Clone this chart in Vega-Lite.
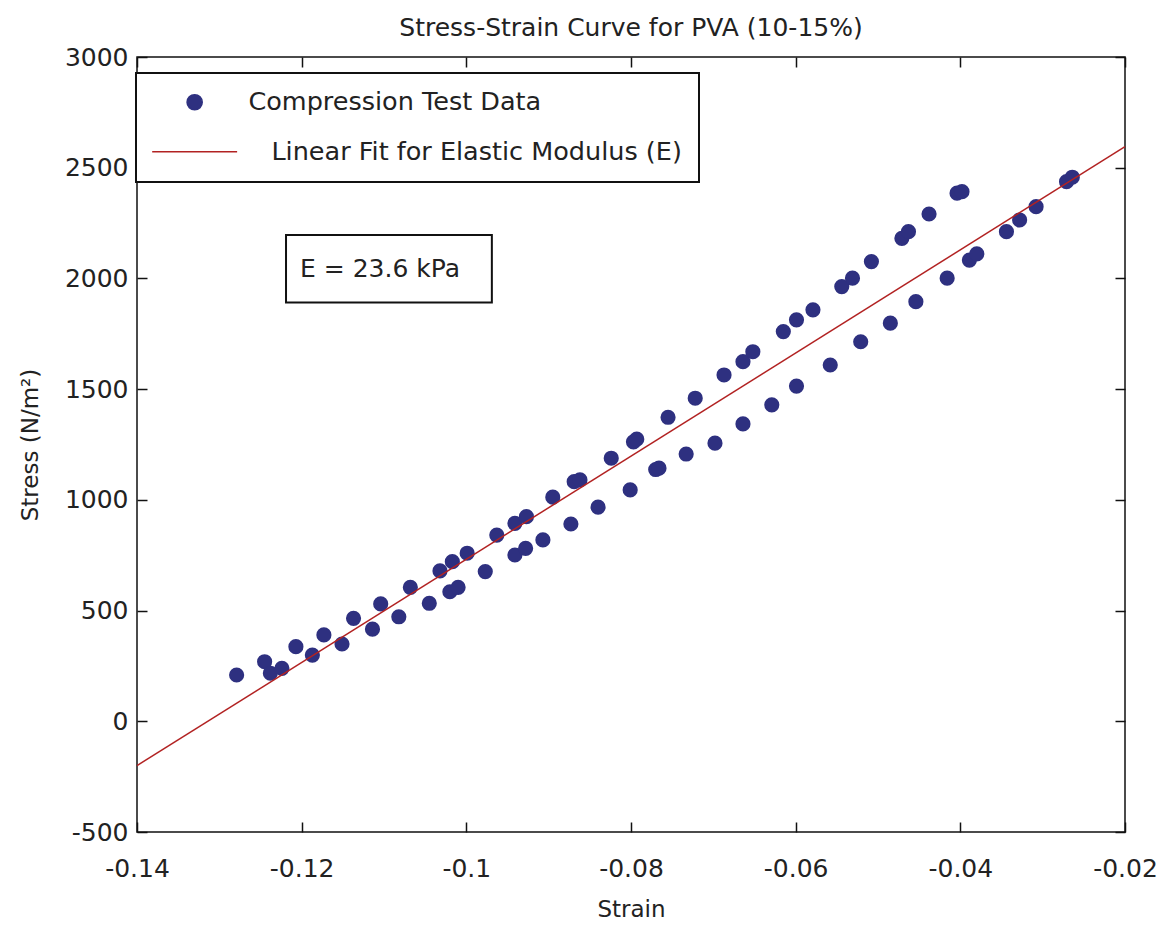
{
  "$schema": "https://vega.github.io/schema/vega-lite/v6.json",
  "width": 988,
  "height": 775,
  "autosize": {"type": "none"},
  "padding": {"left": 137, "top": 57, "right": 39, "bottom": 93},
  "background": "white",
  "title": {"text": "Stress-Strain Curve for PVA (10-15%)", "fontSize": 25, "font": "DejaVu Sans", "fontWeight": "normal", "color": "#222", "offset": 4, "anchor": "middle"},
  "config": {
    "font": "DejaVu Sans",
    "view": {"stroke": "#111", "strokeWidth": 1.5},
    "axis": {"grid": false, "domain": false, "offset": -10, "ticks": true, "tickColor": "#111", "tickWidth": 1.5, "tickSize": 10, "labelFont": "DejaVu Sans", "labelFontSize": 25, "labelColor": "#222", "titleFont": "DejaVu Sans", "titleFontSize": 23, "titleFontWeight": "normal", "titleColor": "#222", "labelFlush": false, "labelOverlap": false},
    "legend": {"orient": "none", "legendX": -1, "legendY": 16, "fillColor": "white", "strokeColor": "#111", "padding": 16.5, "rowPadding": 22.5, "symbolSize": 230, "symbolOffset": 29.4, "labelOffset": 41, "labelFont": "DejaVu Sans", "labelFontSize": 25.5, "labelColor": "#222", "symbolOpacity": 1, "labelLimit": 1000}
  },
  "datasets": {
    "points": [
      {"strain": -0.1279, "stress": 209, "series": "Compression Test Data"},
      {"strain": -0.1245, "stress": 269, "series": "Compression Test Data"},
      {"strain": -0.1238, "stress": 217, "series": "Compression Test Data"},
      {"strain": -0.1224, "stress": 239, "series": "Compression Test Data"},
      {"strain": -0.1207, "stress": 337, "series": "Compression Test Data"},
      {"strain": -0.1187, "stress": 299, "series": "Compression Test Data"},
      {"strain": -0.1173, "stress": 390, "series": "Compression Test Data"},
      {"strain": -0.1151, "stress": 349, "series": "Compression Test Data"},
      {"strain": -0.1137, "stress": 465, "series": "Compression Test Data"},
      {"strain": -0.1114, "stress": 416, "series": "Compression Test Data"},
      {"strain": -0.1104, "stress": 530, "series": "Compression Test Data"},
      {"strain": -0.1082, "stress": 472, "series": "Compression Test Data"},
      {"strain": -0.1068, "stress": 605, "series": "Compression Test Data"},
      {"strain": -0.1045, "stress": 533, "series": "Compression Test Data"},
      {"strain": -0.1032, "stress": 679, "series": "Compression Test Data"},
      {"strain": -0.1020, "stress": 585, "series": "Compression Test Data"},
      {"strain": -0.1017, "stress": 721, "series": "Compression Test Data"},
      {"strain": -0.1010, "stress": 605, "series": "Compression Test Data"},
      {"strain": -0.0999, "stress": 759, "series": "Compression Test Data"},
      {"strain": -0.0977, "stress": 676, "series": "Compression Test Data"},
      {"strain": -0.0963, "stress": 841, "series": "Compression Test Data"},
      {"strain": -0.0941, "stress": 751, "series": "Compression Test Data"},
      {"strain": -0.0941, "stress": 894, "series": "Compression Test Data"},
      {"strain": -0.0928, "stress": 781, "series": "Compression Test Data"},
      {"strain": -0.0927, "stress": 924, "series": "Compression Test Data"},
      {"strain": -0.0907, "stress": 819, "series": "Compression Test Data"},
      {"strain": -0.0895, "stress": 1012, "series": "Compression Test Data"},
      {"strain": -0.0873, "stress": 891, "series": "Compression Test Data"},
      {"strain": -0.0869, "stress": 1082, "series": "Compression Test Data"},
      {"strain": -0.0862, "stress": 1090, "series": "Compression Test Data"},
      {"strain": -0.0840, "stress": 967, "series": "Compression Test Data"},
      {"strain": -0.0824, "stress": 1188, "series": "Compression Test Data"},
      {"strain": -0.0801, "stress": 1045, "series": "Compression Test Data"},
      {"strain": -0.0797, "stress": 1262, "series": "Compression Test Data"},
      {"strain": -0.0793, "stress": 1274, "series": "Compression Test Data"},
      {"strain": -0.0770, "stress": 1137, "series": "Compression Test Data"},
      {"strain": -0.0766, "stress": 1143, "series": "Compression Test Data"},
      {"strain": -0.0755, "stress": 1373, "series": "Compression Test Data"},
      {"strain": -0.0733, "stress": 1207, "series": "Compression Test Data"},
      {"strain": -0.0722, "stress": 1459, "series": "Compression Test Data"},
      {"strain": -0.0698, "stress": 1256, "series": "Compression Test Data"},
      {"strain": -0.0687, "stress": 1564, "series": "Compression Test Data"},
      {"strain": -0.0664, "stress": 1343, "series": "Compression Test Data"},
      {"strain": -0.0664, "stress": 1624, "series": "Compression Test Data"},
      {"strain": -0.0652, "stress": 1669, "series": "Compression Test Data"},
      {"strain": -0.0629, "stress": 1429, "series": "Compression Test Data"},
      {"strain": -0.0615, "stress": 1760, "series": "Compression Test Data"},
      {"strain": -0.0599, "stress": 1514, "series": "Compression Test Data"},
      {"strain": -0.0599, "stress": 1813, "series": "Compression Test Data"},
      {"strain": -0.0579, "stress": 1858, "series": "Compression Test Data"},
      {"strain": -0.0558, "stress": 1609, "series": "Compression Test Data"},
      {"strain": -0.0544, "stress": 1963, "series": "Compression Test Data"},
      {"strain": -0.0531, "stress": 2001, "series": "Compression Test Data"},
      {"strain": -0.0521, "stress": 1714, "series": "Compression Test Data"},
      {"strain": -0.0508, "stress": 2076, "series": "Compression Test Data"},
      {"strain": -0.0485, "stress": 1798, "series": "Compression Test Data"},
      {"strain": -0.0471, "stress": 2181, "series": "Compression Test Data"},
      {"strain": -0.0463, "stress": 2211, "series": "Compression Test Data"},
      {"strain": -0.0454, "stress": 1895, "series": "Compression Test Data"},
      {"strain": -0.0438, "stress": 2291, "series": "Compression Test Data"},
      {"strain": -0.0416, "stress": 2001, "series": "Compression Test Data"},
      {"strain": -0.0404, "stress": 2385, "series": "Compression Test Data"},
      {"strain": -0.0398, "stress": 2392, "series": "Compression Test Data"},
      {"strain": -0.0389, "stress": 2083, "series": "Compression Test Data"},
      {"strain": -0.0380, "stress": 2111, "series": "Compression Test Data"},
      {"strain": -0.0344, "stress": 2211, "series": "Compression Test Data"},
      {"strain": -0.0328, "stress": 2264, "series": "Compression Test Data"},
      {"strain": -0.0308, "stress": 2324, "series": "Compression Test Data"},
      {"strain": -0.0271, "stress": 2437, "series": "Compression Test Data"},
      {"strain": -0.0264, "stress": 2457, "series": "Compression Test Data"}
    ],
    "fit": [
      {"strain": -0.14, "stress": -200, "series": "Linear Fit for Elastic Modulus (E)"},
      {"strain": -0.02, "stress": 2595, "series": "Linear Fit for Elastic Modulus (E)"}
    ]
  },
  "layer": [
    {
      "data": {"name": "points"},
      "mark": {"type": "point", "filled": true, "opacity": 1, "size": 230},
      "encoding": {
        "x": {"field": "strain", "type": "quantitative", "scale": {"domain": [-0.14, -0.02], "nice": false, "zero": false},
          "axis": {"orient": "bottom", "values": [-0.14, -0.12, -0.1, -0.08, -0.06, -0.04, -0.02], "labelExpr": "'' + datum.value", "labelPadding": 24, "title": "Strain", "titlePadding": 17}},
        "y": {"field": "stress", "type": "quantitative", "scale": {"domain": [-500, 3000], "nice": false, "zero": false},
          "axis": {"orient": "left", "values": [-500, 0, 500, 1000, 1500, 2000, 2500, 3000], "labelExpr": "'' + datum.value", "labelPadding": 9, "title": "Stress (N/m²)", "titlePadding": 22}},
        "color": {"field": "series", "type": "nominal",
          "scale": {"domain": ["Compression Test Data", "Linear Fit for Elastic Modulus (E)"], "range": ["#2e3080", "#b22222"]},
          "legend": {"title": null,
            "encode": {"symbols": {"update": {"stroke": {"scale": "color", "field": "value"}, "strokeWidth": {"value": 1.5}}}, "labels": {"update": {"dx": {"signal": "datum.value == 'Compression Test Data' ? 0 : 23"}}}, "legend": {"update": {"strokeWidth": {"value": 2}}}}}},
        "shape": {"field": "series", "type": "nominal",
          "scale": {"domain": ["Compression Test Data", "Linear Fit for Elastic Modulus (E)"], "range": ["circle", "M-5.6,0H5.6"]},
          "legend": {"title": null,
            "encode": {"symbols": {"update": {"stroke": {"scale": "color", "field": "value"}, "strokeWidth": {"value": 1.5}}}, "labels": {"update": {"dx": {"signal": "datum.value == 'Compression Test Data' ? 0 : 23"}}}, "legend": {"update": {"strokeWidth": {"value": 2}}}}}}
      }
    },
    {
      "data": {"name": "fit"},
      "mark": {"type": "line", "strokeWidth": 1.5},
      "encoding": {
        "x": {"field": "strain", "type": "quantitative", "axis": {"orient": "top", "values": [-0.14, -0.12, -0.1, -0.08, -0.06, -0.04, -0.02], "labels": false, "title": null}},
        "y": {"field": "stress", "type": "quantitative", "axis": {"orient": "right", "values": [-500, 0, 500, 1000, 1500, 2000, 2500, 3000], "labels": false, "title": null}},
        "color": {"field": "series", "type": "nominal",
          "legend": {"title": null,
            "encode": {"symbols": {"update": {"stroke": {"scale": "color", "field": "value"}, "strokeWidth": {"value": 1.5}}}, "labels": {"update": {"dx": {"signal": "datum.value == 'Compression Test Data' ? 0 : 23"}}}, "legend": {"update": {"strokeWidth": {"value": 2}}}}}}
      }
    },
    {
      "data": {"values": [{}]},
      "mark": {"type": "rect", "fill": "white", "stroke": "#111", "strokeWidth": 2},
      "encoding": {
        "x": {"datum": -0.1219, "type": "quantitative", "axis": null},
        "x2": {"datum": -0.0969},
        "y": {"datum": 2196, "type": "quantitative", "axis": null},
        "y2": {"datum": 1891}
      }
    },
    {
      "data": {"values": [{}]},
      "mark": {"type": "text", "align": "left", "baseline": "alphabetic", "fontSize": 25, "font": "DejaVu Sans", "color": "#222"},
      "encoding": {
        "x": {"datum": -0.1202, "type": "quantitative", "axis": null},
        "y": {"datum": 2007, "type": "quantitative", "axis": null},
        "text": {"value": "E = 23.6 kPa"}
      }
    }
  ],
  "resolve": {"axis": {"x": "independent", "y": "independent"}}
}
